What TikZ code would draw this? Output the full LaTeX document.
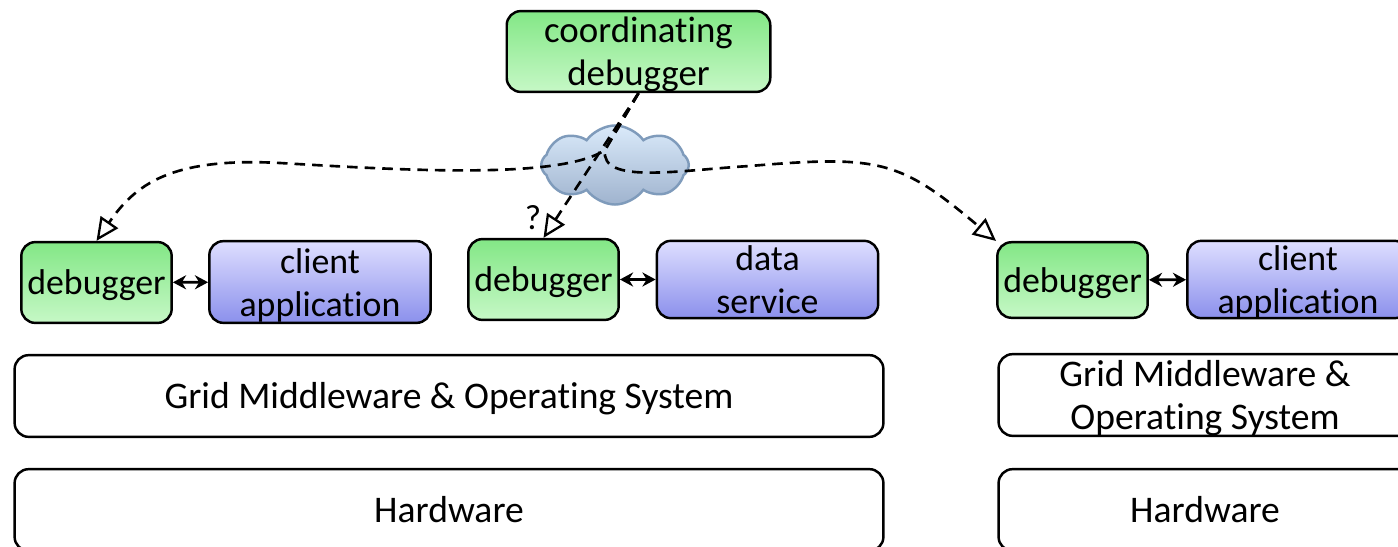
\documentclass[tikz,border=0pt]{standalone}
\usepackage{fontspec}
\setmainfont[Ligatures=CommonOff]{Carlito}
\usetikzlibrary{arrows.meta,shapes.symbols}
\tikzset{
basebox/.style={draw, line width=1.4pt, rounded corners=8pt, inner sep=0pt, font=\fontsize{20.4}{24.4}\selectfont},
dbgbox/.style={basebox, top color=dbgtop, bottom color=dbgbot, minimum width=85.6pt},
appbox/.style={basebox, top color=apptop, bottom color=appbot, minimum width=126pt},
layerbox/.style={basebox, fill=white, font=\fontsize{21.4}{24.4}\selectfont},
link/.style={draw, line width=1.5pt, dash pattern=on 6pt off 4pt, -{Triangle[open,length=13pt,width=12pt,line width=1.3pt]}},
pair/.style={line width=1.6pt, {Stealth[length=7.5pt,width=8pt]}-{Stealth[length=7.5pt,width=8pt]}},
}
\definecolor{dbgtop}{HTML}{83E786}
\definecolor{dbgbot}{HTML}{C6F8C6}
\definecolor{apptop}{HTML}{DEDEFF}
\definecolor{appbot}{HTML}{8B90EC}
\definecolor{cloudtop}{HTML}{DAEAFA}
\definecolor{cloudbot}{HTML}{9FB3CE}
\definecolor{cloudline}{HTML}{7F9BBB}
\newcommand{\twolines}[2]{\smash{\raisebox{-7.6pt}{\begin{tabular}{@{}c@{}}#1\\#2\end{tabular}}}}
\newcommand{\oneline}[1]{\smash{\raisebox{-7pt}{#1}}}
\begin{document}
\begin{tikzpicture}[x=0.02cm, y=-0.02cm]
\useasboundingbox (0,0) rectangle (1398,547);
% cloud goes first, the links run over it
\node[cloud, cloud puffs=8, cloud puff arc=110, aspect=2, draw=cloudline, line width=1.4pt, top color=cloudtop, bottom color=cloudbot, minimum width=84pt, minimum height=45pt, inner sep=0pt] (net) at (615,165) {};

\node[dbgbox, minimum width=150pt, minimum height=46pt, font=\fontsize{21}{24.4}\selectfont] (coord) at (638.5,51.5) {\twolines{coordinating}{debugger}};

\node[dbgbox, minimum height=46pt] (dbgA) at (96.5,282.5) {\oneline{debugger}};
\node[appbox, minimum height=46.5pt] (appA) at (320,282) {\twolines{client}{application}};
\node[dbgbox, minimum height=46pt] (dbgB) at (543.5,279.5) {\oneline{debugger}};
\node[appbox, minimum height=44pt] (appB) at (767.5,279.5) {\twolines{data}{service}};
\node[dbgbox, minimum height=43pt] (dbgC) at (1072.5,280) {\oneline{debugger}};
\node[appbox, minimum height=44pt] (appC) at (1298,279.5) {\twolines{client}{application}};

\node[layerbox, minimum width=494.5pt, minimum height=46.5pt] (midA) at (449,396) {\oneline{Grid Middleware \& Operating System}};
\node[layerbox, minimum width=494.5pt, minimum height=46.5pt] (hwA) at (449,510) {Hardware};
\node[layerbox, minimum width=235pt, minimum height=46.5pt] (midC) at (1205,395) {\twolines{Grid Middleware \&}{Operating System}};
\node[layerbox, minimum width=235pt, minimum height=46.5pt] (hwC) at (1205,510) {Hardware};

\node[font=\fontsize{20}{24}\selectfont, inner sep=0pt] (what) at (533,218) {?};

\coordinate (fork) at (605,150);

\draw[pair] (dbgA) -- (appA);
\draw[pair] (dbgB) -- (appB);
\draw[pair] (dbgC) -- (appC);

\draw[link] (coord.south) -- (dbgB.north);
\draw[link] (coord.south) -- (fork) .. controls (560,180) and (400,170) .. (280,163)
  .. controls (170,157) and (135,185) .. (dbgA.north);
\draw[link] (coord.south) -- (fork) .. controls (600,185) and (680,170) .. (750,166)
  .. controls (880,155) and (900,160) .. (dbgC.north west);
\end{tikzpicture}
\end{document}
